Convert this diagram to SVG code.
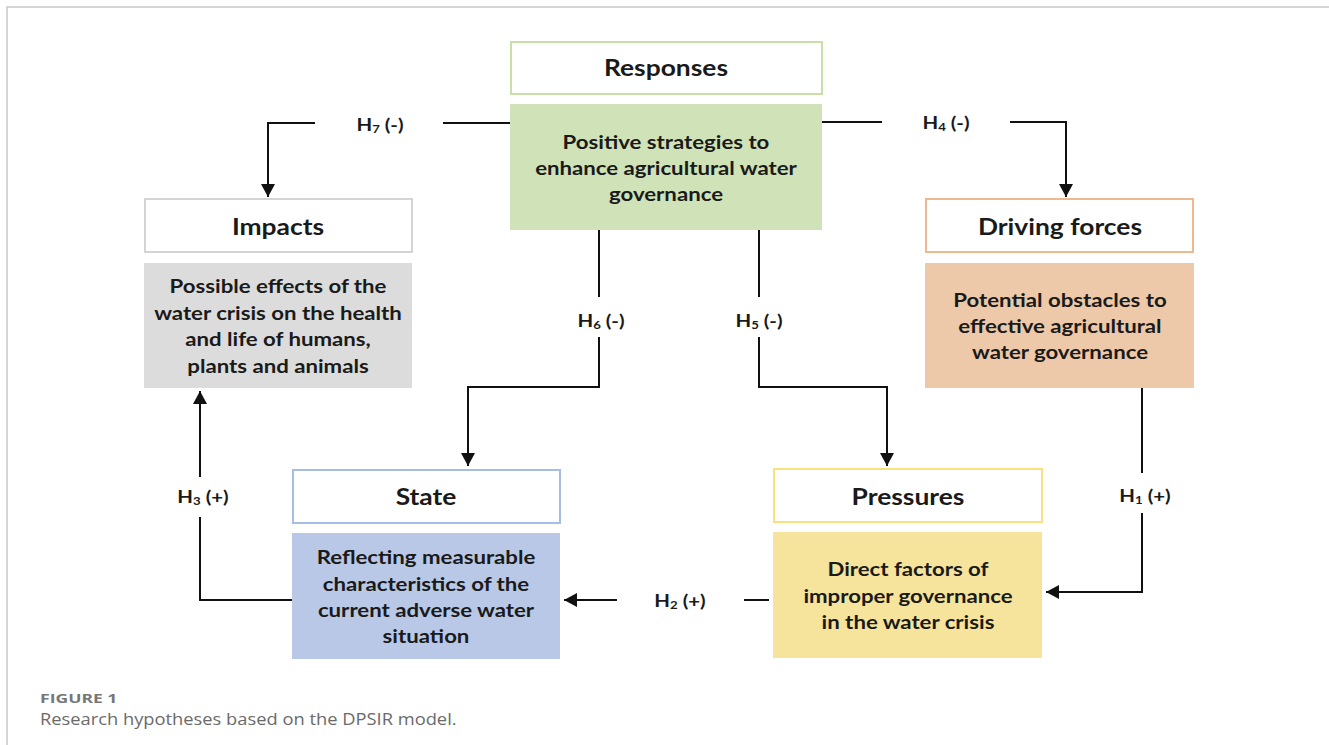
<svg xmlns="http://www.w3.org/2000/svg" width="1329" height="745" viewBox="0 0 1329 745">
<defs>
<marker id="arr" markerUnits="userSpaceOnUse" markerWidth="14" markerHeight="14" viewBox="0 0 14 14" refX="13" refY="7" orient="auto">
<path d="M0,0 L13,7 L0,14 Z" fill="#111"/>
</marker>
<style>
.hdr{fill:#fff;stroke-width:2}
.ht{font-family:Lato,"Liberation Sans",sans-serif;font-weight:700;font-size:22px;fill:#1a1a1a;text-anchor:middle}
.bt{font-family:Lato,"Liberation Sans",sans-serif;font-weight:700;font-size:18.5px;fill:#1a1a1a;text-anchor:middle}
.lb{font-family:Lato,"Liberation Sans",sans-serif;font-weight:700;font-size:17px;fill:#1a1a1a;text-anchor:middle}
.sub{font-size:11px}
.ln{fill:none;stroke:#111;stroke-width:2}
</style>
</defs>
<rect x="0" y="0" width="1329" height="745" fill="#fff"/>
<path d="M7,745 V7 H1329" fill="none" stroke="#c8c8c8" stroke-width="1.5"/>

<g id="responses">
<rect class="hdr" x="511" y="42" width="311" height="52" stroke="#c8e0a8"/>
<rect x="510" y="104" width="312" height="126" fill="#d0e2b8"/>
<g transform="matrix(1.2 0 0 1 -133.2 0)">
<text class="ht" x="666" y="76">Responses</text>
<text class="bt" x="666" y="149">Positive strategies to</text>
<text class="bt" x="666" y="175">enhance agricultural water</text>
<text class="bt" x="666" y="201">governance</text>
</g>
</g>

<g id="impacts">
<rect class="hdr" x="145" y="199" width="267" height="53" stroke="#d4d4d4"/>
<rect x="144" y="263" width="268" height="125" fill="#dcdcdc"/>
<g transform="matrix(1.2 0 0 1 -55.6 0)">
<text class="ht" x="278" y="235">Impacts</text>
<text class="bt" x="278" y="293">Possible effects of the</text>
<text class="bt" x="278" y="320">water crisis on the health</text>
<text class="bt" x="278" y="346">and life of humans,</text>
<text class="bt" x="278" y="373">plants and animals</text>
</g>
</g>

<g id="driving">
<rect class="hdr" x="926" y="199" width="267" height="53" stroke="#f0b88e"/>
<rect x="925" y="263" width="269" height="125" fill="#edc9a9"/>
<g transform="matrix(1.2 0 0 1 -212 0)">
<text class="ht" x="1060" y="235">Driving forces</text>
<text class="bt" x="1060" y="307">Potential obstacles to</text>
<text class="bt" x="1060" y="333">effective agricultural</text>
<text class="bt" x="1060" y="359">water governance</text>
</g>
</g>

<g id="state">
<rect class="hdr" x="293" y="470" width="267" height="53" stroke="#a8bce8"/>
<rect x="292" y="533" width="268" height="126" fill="#b8c8e6"/>
<g transform="matrix(1.2 0 0 1 -85.2 0)">
<text class="ht" x="426" y="505">State</text>
<text class="bt" x="426" y="564">Reflecting measurable</text>
<text class="bt" x="426" y="591">characteristics of the</text>
<text class="bt" x="426" y="617">current adverse water</text>
<text class="bt" x="426" y="643">situation</text>
</g>
</g>

<g id="pressures">
<rect class="hdr" x="774" y="469" width="268" height="53" stroke="#fbe07e"/>
<rect x="773" y="532" width="269" height="126" fill="#f7e49c"/>
<g transform="matrix(1.2 0 0 1 -181.6 0)">
<text class="ht" x="908" y="505">Pressures</text>
<text class="bt" x="908" y="576">Direct factors of</text>
<text class="bt" x="908" y="603">improper governance</text>
<text class="bt" x="908" y="629">in the water crisis</text>
</g>
</g>

<g id="connectors">
<path class="ln" d="M510,123 H443"/>
<path class="ln" d="M315,123 H268 V197" marker-end="url(#arr)"/>
<path class="ln" d="M822,122 H882"/>
<path class="ln" d="M1010,122 H1066 V197" marker-end="url(#arr)"/>
<path class="ln" d="M599,230 V297"/>
<path class="ln" d="M599,337 V387 H468 V466" marker-end="url(#arr)"/>
<path class="ln" d="M759,230 V297"/>
<path class="ln" d="M759,337 V387 H887 V466" marker-end="url(#arr)"/>
<path class="ln" d="M1142,388 V473"/>
<path class="ln" d="M1142,513 V592 H1046" marker-end="url(#arr)"/>
<path class="ln" d="M769,600 H744"/>
<path class="ln" d="M617,600 H564" marker-end="url(#arr)"/>
<path class="ln" d="M292,600 H200 V517"/>
<path class="ln" d="M200,477 V391" marker-end="url(#arr)"/>
<text class="lb" x="380" y="131" transform="matrix(1.2 0 0 1 -76 0)">H<tspan class="sub" dy="2">7</tspan><tspan dy="-2"> (-)</tspan></text>
<text class="lb" x="946" y="129" transform="matrix(1.2 0 0 1 -189.2 0)">H<tspan class="sub" dy="2">4</tspan><tspan dy="-2"> (-)</tspan></text>
<text class="lb" x="601" y="327" transform="matrix(1.2 0 0 1 -120.2 0)">H<tspan class="sub" dy="2">6</tspan><tspan dy="-2"> (-)</tspan></text>
<text class="lb" x="759" y="327" transform="matrix(1.2 0 0 1 -151.8 0)">H<tspan class="sub" dy="2">5</tspan><tspan dy="-2"> (-)</tspan></text>
<text class="lb" x="1145" y="502" transform="matrix(1.2 0 0 1 -229 0)">H<tspan class="sub" dy="2">1</tspan><tspan dy="-2"> (+)</tspan></text>
<text class="lb" x="680" y="607" transform="matrix(1.2 0 0 1 -136 0)">H<tspan class="sub" dy="2">2</tspan><tspan dy="-2"> (+)</tspan></text>
<text class="lb" x="203" y="503" transform="matrix(1.2 0 0 1 -40.6 0)">H<tspan class="sub" dy="2">3</tspan><tspan dy="-2"> (+)</tspan></text>
</g>

<g id="caption">
<text x="40" y="703" transform="matrix(1.35 0 0 1 -14 0)" font-family="'Open Sans','Liberation Sans',sans-serif" font-weight="700" font-size="13" fill="#777">FIGURE 1</text>
<text x="40" y="725" transform="matrix(1.11 0 0 1 -4.4 0)" font-family="'Open Sans','Liberation Sans',sans-serif" font-size="16.5" fill="#6a6a6a">Research hypotheses based on the DPSIR model.</text>
</g>
</svg>
